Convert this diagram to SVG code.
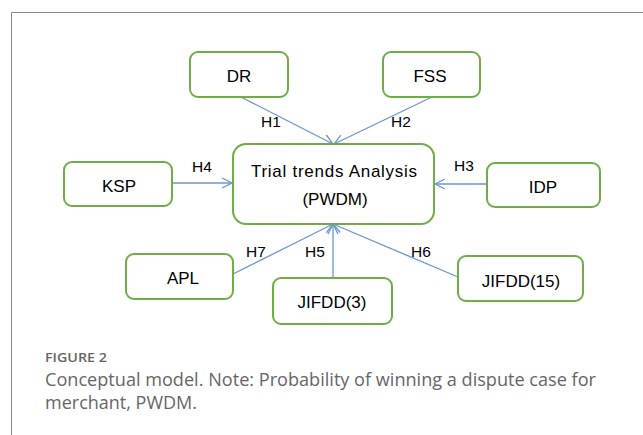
<svg xmlns="http://www.w3.org/2000/svg" width="643" height="435" viewBox="0 0 643 435">
<style>
.box{fill:#fff;stroke:#70AD47;stroke-width:2}
.t{font-family:"Liberation Sans",Arial,sans-serif;font-size:17px;fill:#000;text-anchor:middle}
.h{font-family:"Liberation Sans",Arial,sans-serif;font-size:15.5px;fill:#000;text-anchor:middle}
.c{stroke:#6A95D8;stroke-width:1.3;fill:none;marker-end:url(#a)}
.cap{font-family:"Open Sans","Noto Sans",sans-serif;fill:#666}
</style>
<defs>
<marker id="a" viewBox="0 0 12 12" refX="11" refY="6" markerWidth="12" markerHeight="12" markerUnits="userSpaceOnUse" orient="auto">
<path d="M1,1 L11,6 L1,11" fill="none" stroke="#6A95D8" stroke-width="1.3"/>
</marker>
</defs>
<rect width="643" height="435" fill="#fff"/>
<path d="M11.5,435 V12.5 H643" fill="none" stroke="#888" stroke-width="1"/>
<g id="connectors">
<line class="c" x1="241" y1="97" x2="333" y2="144"/>
<line class="c" x1="432" y1="97" x2="334" y2="144"/>
<line class="c" x1="172" y1="183" x2="232" y2="183"/>
<line class="c" x1="487" y1="184" x2="435" y2="184"/>
<line class="c" x1="233" y1="274" x2="333" y2="224"/>
<line class="c" x1="333" y1="278" x2="333" y2="224"/>
<line class="c" x1="458" y1="277" x2="333" y2="224"/>
<text class="h" x="271" y="127">H1</text>
<text class="h" x="401" y="127">H2</text>
<text class="h" x="202" y="172">H4</text>
<text class="h" x="464" y="171">H3</text>
<text class="h" x="256" y="257">H7</text>
<text class="h" x="315" y="257">H5</text>
<text class="h" x="421" y="257">H6</text>
</g>
<g id="DR"><rect class="box" x="190" y="52" width="98" height="45" rx="8"/><text class="t" x="239" y="82">DR</text></g>
<g id="FSS"><rect class="box" x="383" y="52" width="97" height="45" rx="8"/><text class="t" x="430" y="82">FSS</text></g>
<g id="center"><rect class="box" x="233" y="144" width="201" height="80" rx="13"/>
<text class="t" x="334" y="177" textLength="166" lengthAdjust="spacing">Trial  trends  Analysis</text>
<text class="t" x="335" y="205">(PWDM)</text></g>
<g id="KSP"><rect class="box" x="64" y="162" width="108" height="44" rx="8"/><text class="t" x="119" y="192">KSP</text></g>
<g id="IDP"><rect class="box" x="487" y="163" width="113" height="44" rx="8"/><text class="t" x="543" y="193">IDP</text></g>
<g id="APL"><rect class="box" x="126" y="254" width="107" height="45" rx="8"/><text class="t" x="183" y="284">APL</text></g>
<g id="JIFDD3"><rect class="box" x="273" y="278" width="119" height="46" rx="8"/><text class="t" x="332" y="308">JIFDD(3)</text></g>
<g id="JIFDD15"><rect class="box" x="458" y="256" width="125" height="45" rx="8"/><text class="t" x="521" y="287">JIFDD(15)</text></g>
<text class="cap" x="45" y="362" font-size="13" font-weight="600" fill="#777" textLength="62" lengthAdjust="spacingAndGlyphs">FIGURE 2</text>
<text class="cap" x="45" y="386" font-size="18" textLength="551" lengthAdjust="spacingAndGlyphs">Conceptual model. Note: Probability of winning a dispute case for</text>
<text class="cap" x="45" y="409" font-size="18">merchant, PWDM.</text>
</svg>
